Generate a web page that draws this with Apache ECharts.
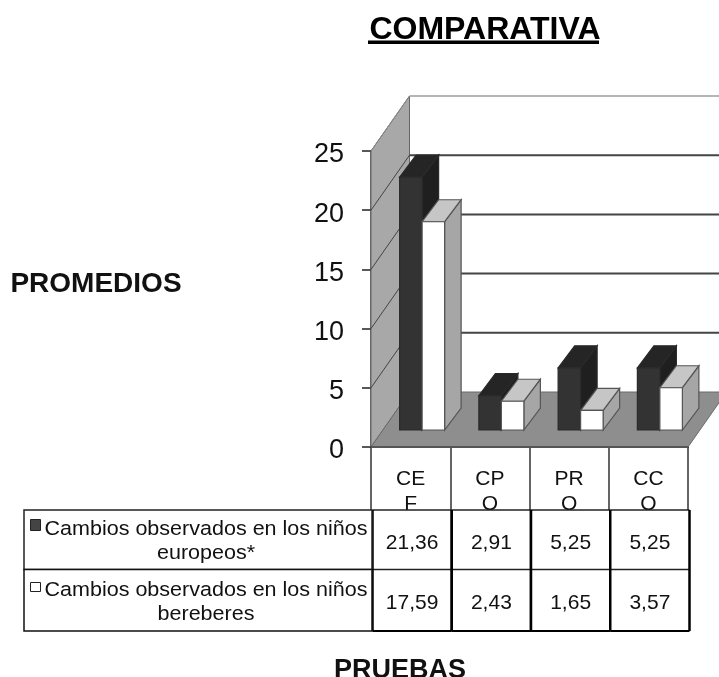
<!DOCTYPE html>
<html>
<head>
<meta charset="utf-8">
<style>html,body{margin:0;padding:0;background:#fff}#chart1{width:719px;height:677px}</style>
<script src="https://cdn.jsdelivr.net/npm/echarts@6/dist/echarts.min.js"></script>
</head>
<body>
<div id="chart1"></div>
<script>
// datos
var categorias = ['CEF', 'CPO', 'PRO', 'CCO'];
var europeos = [21.36, 2.91, 5.25, 5.25];
var bereberes = [17.59, 2.43, 1.65, 3.57];
var marcasY = [0, 5, 10, 15, 20, 25];
var nombreEuropeos = 'Cambios observados en los niños\neuropeos*';
var nombreBereberes = 'Cambios observados en los niños\nbereberes';

// perspectiva
var FONDO_X = 38.5, FONDO_Y = -55;
var BASE_X = 11.5, BASE_Y = -17;
var BARRA_X = 16.5, BARRA_Y = -22;
var BARRA_W = 22.5;
var FUENTE = '"Liberation Sans", Arial, sans-serif';

function poly(puntos, fill, stroke, lw) {
    return { type: 'polygon', shape: { points: puntos }, style: { fill: fill, stroke: stroke, lineWidth: lw || 1 } };
}
function linea(a, b, color, lw) {
    return {
        type: 'line', shape: { x1: a[0], y1: a[1], x2: b[0], y2: b[1] },
        style: { stroke: color, lineWidth: lw, fill: null }
    };
}

// paredes, suelo y lineas de division
function pintaParedes(params, api) {
    var v = api.value(1);
    var banda = api.size([1, 0])[0];
    var c0 = api.coord([0, v]);
    var izq = c0[0] - banda / 2;
    var der = api.coord([categorias.length - 1, v])[0] + banda / 2;
    var y = c0[1];
    var hijos = [];
    if (v === 0) {
        var yTop = api.coord([0, marcasY[marcasY.length - 1]])[1];
        hijos.push(poly([[izq, y], [izq, yTop], [izq + FONDO_X, yTop + FONDO_Y], [izq + FONDO_X, y + FONDO_Y]], '#a8a8a8', '#666', 1));
        hijos.push(poly([[izq, y], [der, y], [der + FONDO_X, y + FONDO_Y], [izq + FONDO_X, y + FONDO_Y]], '#8e8e8e', '#6a6a6a', 1));
        hijos.push(linea([izq, y], [der, y], '#555', 2));
    } else {
        var top = v === marcasY[marcasY.length - 1];
        hijos.push(linea([izq + FONDO_X, y + FONDO_Y], [der + FONDO_X, y + FONDO_Y], top ? '#b5b5b5' : '#444', 2));
        hijos.push(linea([izq, y], [izq + FONDO_X, y + FONDO_Y], top ? '#888' : '#444', 1));
    }
    return { type: 'group', children: hijos };
}

// barra 3D: lado -1 a la izquierda del centro, 0 a la derecha
function pintaBarra(lado, frente, tapa, costado, borde) {
    return function (params, api) {
        var i = api.value(0);
        var base = api.coord([i, 0]);
        var cima = api.coord([i, api.value(1)]);
        var x0 = base[0] + BASE_X + lado * BARRA_W;
        var x1 = x0 + BARRA_W;
        var y0 = base[1] + BASE_Y;
        var y1 = cima[1] + BASE_Y;
        return {
            type: 'group',
            children: [
                poly([[x1, y0], [x1, y1], [x1 + BARRA_X, y1 + BARRA_Y], [x1 + BARRA_X, y0 + BARRA_Y]], costado, borde, 1.2),
                poly([[x0, y1], [x1, y1], [x1 + BARRA_X, y1 + BARRA_Y], [x0 + BARRA_X, y1 + BARRA_Y]], tapa, borde, 1.2),
                poly([[x0, y0], [x1, y0], [x1, y1], [x0, y1]], frente, borde, 1.2)
            ]
        };
    };
}

// celdas de la tabla de datos
var FILAS = [510, 569.5, 631];
function coma(n) { return n.toFixed(2).replace('.', ','); }
function pintaTabla(params, api) {
    var i = api.value(0);
    var banda = api.size([1, 0])[0];
    var c = api.coord([i, 0])[0] + 1.5;
    var izq = c - banda / 2, der = c + banda / 2;
    var hijos = [{
        type: 'rect',
        shape: { x: izq, y: FILAS[0], width: banda, height: FILAS[2] - FILAS[0] },
        style: { fill: '#fff' }
    }];
    for (var f = 0; f < 2; f++) {
        hijos.push({
            type: 'text',
            style: {
                x: c, y: (FILAS[f] + FILAS[f + 1]) / 2 + 3, text: coma(api.value(f + 1)),
                align: 'center', verticalAlign: 'middle', fill: '#111', font: '21px ' + FUENTE
            }
        });
    }
    hijos.push(linea([izq, FILAS[0]], [der, FILAS[0]], '#222', 1.5));
    hijos.push(linea([izq, FILAS[1]], [der, FILAS[1]], '#222', 1.5));
    hijos.push(linea([izq, FILAS[2]], [der, FILAS[2]], '#000', 2));
    hijos.push(linea([izq, FILAS[0]], [izq, FILAS[2]], '#000', 2.5));
    hijos.push(linea([der, FILAS[0]], [der, FILAS[2]], '#000', 2.5));
    return { type: 'group', children: hijos };
}

var myChart = echarts.init(document.getElementById('chart1'));
myChart.setOption({
    animation: false,
    backgroundColor: '#fff',
    title: [
        { text: 'COMPARATIVA', left: 480, top: 9, textAlign: 'center', textStyle: { fontFamily: FUENTE, fontWeight: 'bold', fontSize: 32, color: '#000' } },
        { text: 'PROMEDIOS', left: 91, top: 265, textAlign: 'center', textStyle: { fontFamily: FUENTE, fontWeight: 'bold', fontSize: 28, color: '#111' } },
        { text: 'PRUEBAS', left: 395, top: 652, textAlign: 'center', textStyle: { fontFamily: FUENTE, fontWeight: 'bold', fontSize: 27, color: '#111' } }
    ],
    grid: { left: 371, top: 151, right: 31, bottom: 230 },
    xAxis: {
        type: 'category',
        data: categorias,
        axisLine: { lineStyle: { color: '#333', width: 2 } },
        axisTick: { show: true, length: 63, lineStyle: { color: '#333', width: 1.5 } },
        axisLabel: {
            interval: 0, margin: 20, width: 32, overflow: 'breakAll', lineHeight: 25,
            fontFamily: FUENTE, fontSize: 21, color: '#111'
        }
    },
    yAxis: {
        type: 'value',
        min: 0,
        max: 25,
        interval: 5,
        splitLine: { show: false },
        axisLine: { show: true, lineStyle: { color: '#333', width: 1.5 } },
        axisTick: { show: true, length: 9, lineStyle: { color: '#222', width: 1.5 } },
        axisLabel: {
            margin: 27,
            formatter: '{n|{value}}',
            rich: { n: { padding: [8, 0, 0, 0], fontFamily: FUENTE, fontSize: 27, color: '#111' } }
        }
    },
    series: [
        {
            name: 'paredes', type: 'custom', z: 2, clip: false, silent: true,
            data: marcasY.map(function (v) { return [0, v]; }),
            renderItem: pintaParedes
        },
        {
            name: nombreEuropeos, type: 'custom', z: 3, clip: false,
            data: europeos.map(function (v, i) { return [i, v]; }),
            renderItem: pintaBarra(-1, '#333333', '#252525', '#1f1f1f', '#2a2a2a')
        },
        {
            name: nombreBereberes, type: 'custom', z: 4, clip: false,
            data: bereberes.map(function (v, i) { return [i, v]; }),
            renderItem: pintaBarra(0, '#ffffff', '#c6c6c6', '#a6a6a6', '#555')
        },
        {
            name: 'tabla', type: 'custom', z: 6, clip: false, silent: true,
            data: categorias.map(function (c, i) { return [i, europeos[i], bereberes[i]]; }),
            encode: { x: 0, y: 3 },
            renderItem: pintaTabla
        }
    ],
    graphic: [
        { type: 'rect', z: 7, shape: { x: 368, y: 40.5, width: 231, height: 3.5 }, style: { fill: '#000' } },
        { type: 'rect', z: 7, shape: { x: 24, y: 510, width: 348, height: 59.5 }, style: { fill: '#fff', stroke: '#222', lineWidth: 1.5 } },
        { type: 'rect', z: 7, shape: { x: 24, y: 569.5, width: 348, height: 61.5 }, style: { fill: '#fff', stroke: '#111', lineWidth: 1.5 } },
        { type: 'rect', z: 8, shape: { x: 30.5, y: 519.5, width: 10, height: 11 }, style: { fill: '#444', stroke: '#222', lineWidth: 1 } },
        { type: 'rect', z: 8, shape: { x: 30.5, y: 582.5, width: 10, height: 9 }, style: { fill: '#fff', stroke: '#222', lineWidth: 1 } },
        { type: 'text', z: 8, x: 206, y: 541, scaleX: 1.05, style: { x: 0, y: 0, text: nombreEuropeos, align: 'center', verticalAlign: 'middle', lineHeight: 24, fill: '#111', font: '20.5px ' + FUENTE } },
        { type: 'text', z: 8, x: 206, y: 602, scaleX: 1.05, style: { x: 0, y: 0, text: nombreBereberes, align: 'center', verticalAlign: 'middle', lineHeight: 24, fill: '#111', font: '20.5px ' + FUENTE } }
    ]
});
</script>
</body>
</html>
